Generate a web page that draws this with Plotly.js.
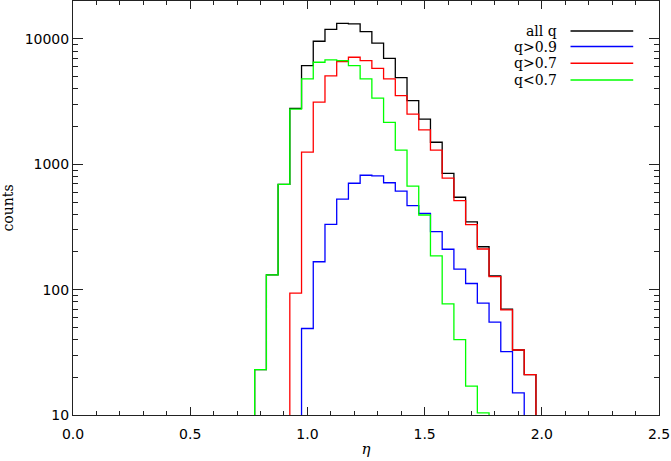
<!DOCTYPE html>
<html>
<head>
<meta charset="utf-8">
<script src="https://cdn.plot.ly/plotly-3.0.1.min.js"></script>
<style>
  html, body { margin: 0; padding: 0; background: #fff; }
  #plot { width: 671px; height: 461px; }
</style>
</head>
<body>
<div id="plot"></div>
<script>
// bin centres (eta), bin width 0.05
var etaBins = [0.75, 0.80, 0.85, 0.90, 0.95, 1.00, 1.05, 1.10, 1.15, 1.20, 1.25, 1.30, 1.35,
               1.40, 1.45, 1.50, 1.55, 1.60, 1.65, 1.70, 1.75, 1.80, 1.85, 1.90, 1.95, 2.00, 2.05];

// counts per bin (values < 10 fall below the axis)
var allQ   = [3, 23, 131, 693, 2790, 6120, 9590, 11940, 13330, 13180, 11430, 9250, 7010,
              4910, 3220, 2290, 1500, 848, 546, 347, 220, 129, 70, 33, 21, 3, 1];
var qGt09  = [1, 1, 1, 1, 3, 49, 167, 332, 528, 706, 818, 808, 713,
              612, 468, 406, 290, 210, 146, 112, 78, 55, 32, 15, 3, 1, 1];
var qGt07  = [1, 1, 1, 3, 94, 1250, 3130, 5070, 6590, 7150, 6730, 5830, 4800,
              3530, 2510, 1880, 1300, 775, 513, 330, 211, 127, 69, 33, 21, 3, 1];
var qLt07  = [3, 23, 131, 693, 2760, 4800, 6520, 6810, 6730, 6120, 4800, 3370, 2160,
              1300, 671, 394, 186, 77, 40, 17, 10.4, 3, 2, 1, 1, 1, 1];

var seriesNames  = ["all q", "q>0.9", "q>0.7", "q<0.7"];
var seriesColors = ["#000000", "#0000ff", "#ff0000", "#00ff00"];
var seriesData   = [allQ, qGt09, qGt07, qLt07];

var data = seriesData.map(function (vals, i) {
  return {
    x: etaBins,
    y: vals,
    type: "scatter",
    mode: "lines",
    name: seriesNames[i],
    line: {color: seriesColors[i], width: 1.3, shape: "hvh"},
    hoverinfo: "skip"
  };
});

// legend drawn IDL style: label on the left, line sample on the right
var legY = [0.9275, 0.890, 0.8495, 0.809];
var annotations = seriesNames.map(function (n, i) {
  return {
    xref: "paper", yref: "paper", x: 0.829, y: legY[i],
    xanchor: "right", yanchor: "middle", showarrow: false,
    text: n, font: {family: "DejaVu Serif", size: 14, color: "#000"}
  };
});
var shapes = seriesColors.map(function (c, i) {
  return {
    type: "line", xref: "paper", yref: "paper",
    x0: 0.849, x1: 0.956, y0: legY[i], y1: legY[i],
    line: {color: c, width: 1.5}
  };
});

var layout = {
  width: 671,
  height: 461,
  margin: {l: 73, r: 12, t: 1, b: 46},
  paper_bgcolor: "#fff",
  plot_bgcolor: "#fff",
  showlegend: false,
  annotations: annotations,
  shapes: shapes,
  xaxis: {
    range: [0, 2.5],
    tick0: 0, dtick: 0.5, tickformat: ".1f",
    ticks: "inside", ticklen: 8, tickwidth: 1, tickcolor: "#222",
    ticklabelstandoff: 6,
    minor: {dtick: 0.1, ticks: "inside", ticklen: 4, tickcolor: "#222"},
    mirror: "ticks", showline: true, linecolor: "#222", linewidth: 1,
    showgrid: false, zeroline: false,
    tickfont: {family: "DejaVu Sans", size: 14, color: "#000"},
    title: {text: "<i>η</i>", font: {family: "DejaVu Serif", size: 15, color: "#000"}, standoff: 2}
  },
  yaxis: {
    type: "log",
    range: [1, 4.303],
    tickvals: [10, 100, 1000, 10000],
    ticktext: ["10", "100", "1000", "10000"],
    ticks: "inside", ticklen: 10, tickwidth: 1, tickcolor: "#222",
    minor: {dtick: "D1", ticks: "inside", ticklen: 5, tickcolor: "#222"},
    mirror: "ticks", showline: true, linecolor: "#222", linewidth: 1,
    showgrid: false, zeroline: false,
    tickfont: {family: "DejaVu Sans", size: 14, color: "#000"},
    title: {text: "counts", font: {family: "DejaVu Serif", size: 14, color: "#000"}, standoff: 8}
  }
};

Plotly.newPlot("plot", data, layout, {staticPlot: true});
</script>
</body>
</html>
